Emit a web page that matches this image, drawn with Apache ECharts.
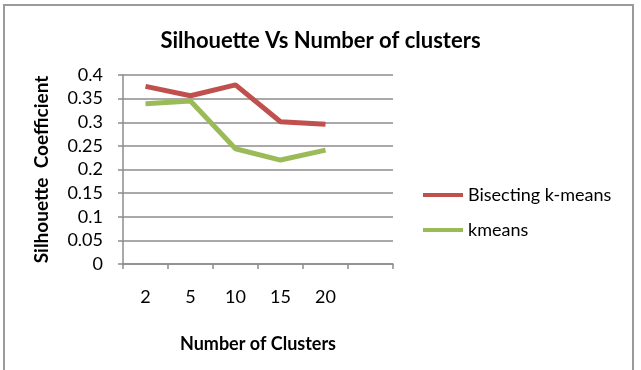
<!DOCTYPE html>
<html>
<head>
<meta charset="utf-8">
<script src="https://cdn.jsdelivr.net/npm/echarts@6/dist/echarts.min.js"></script>
<style>
  html, body { margin: 0; padding: 0; background: #fff; }
  #chart { width: 641px; height: 370px; }
</style>
</head>
<body>
<div id="chart"></div>
<script>
const categories = ['2', '5', '10', '15', '20', ''];
const bisecting = [0.376, 0.356, 0.379, 0.301, 0.296];
const kmeans = [0.339, 0.345, 0.244, 0.220, 0.241];
const yTicks = { min: 0, max: 0.4, interval: 0.05 };

const FONT = 'Lato, "Open Sans", sans-serif';
const chart = echarts.init(document.getElementById('chart'), null, { renderer: 'canvas' });
chart.setOption({
  backgroundColor: '#ffffff',
  animation: false,
  graphic: [{
    type: 'rect',
    shape: { x: 4, y: 5, width: 629, height: 380 },
    style: { fill: 'none', stroke: '#9a9a9a', lineWidth: 2 },
    silent: true
  }],
  title: {
    text: 'Silhouette Vs Number of clusters',
    left: 'center',
    top: 25,
    textStyle: { fontFamily: FONT, fontWeight: 'bold', fontSize: 22, color: '#000' }
  },
  legend: {
    orient: 'vertical',
    left: 418,
    top: 181,
    icon: 'rect',
    itemWidth: 40,
    itemHeight: 4,
    itemGap: 17,
    textStyle: { fontFamily: FONT, fontSize: 18, color: '#000' },
    data: ['Bisecting k-means', 'kmeans']
  },
  grid: { left: 123, right: 248, top: 75, bottom: 106, containLabel: false },
  xAxis: {
    type: 'category',
    data: categories,
    boundaryGap: true,
    name: 'Number of Clusters',
    nameLocation: 'middle',
    nameGap: 71,
    nameTextStyle: { fontFamily: FONT, fontWeight: 'bold', fontSize: 18, color: '#000' },
    axisLine: { lineStyle: { color: '#8c8c8c', width: 1.5 } },
    axisTick: { show: true, length: 5, lineStyle: { color: '#8c8c8c', width: 1.5 } },
    axisLabel: { margin: 24, fontFamily: FONT, fontSize: 18, color: '#000' },
    splitLine: { show: false }
  },
  yAxis: {
    type: 'value',
    min: yTicks.min,
    max: yTicks.max,
    interval: yTicks.interval,
    name: 'Silhouette  Coefficient',
    nameLocation: 'middle',
    nameGap: 72,
    nameTextStyle: { fontFamily: FONT, fontWeight: 'bold', fontSize: 19, color: '#000' },
    axisLine: { show: true, lineStyle: { color: '#8c8c8c', width: 1.5 } },
    axisTick: { show: true, length: 5, lineStyle: { color: '#8c8c8c', width: 1.5 } },
    axisLabel: {
      margin: 20, fontFamily: FONT, fontSize: 18, color: '#000',
      formatter: v => String(Math.round(v * 100) / 100)
    },
    splitLine: { show: true, lineStyle: { color: '#8c8c8c', width: 1.5 } }
  },
  series: [
    {
      name: 'Bisecting k-means',
      type: 'line',
      data: bisecting,
      symbol: 'none',
      color: '#C0504D',
      lineStyle: { color: '#C0504D', width: 5 }
    },
    {
      name: 'kmeans',
      type: 'line',
      data: kmeans,
      symbol: 'none',
      color: '#9BBB59',
      lineStyle: { color: '#9BBB59', width: 5 }
    }
  ]
});
</script>
</body>
</html>
